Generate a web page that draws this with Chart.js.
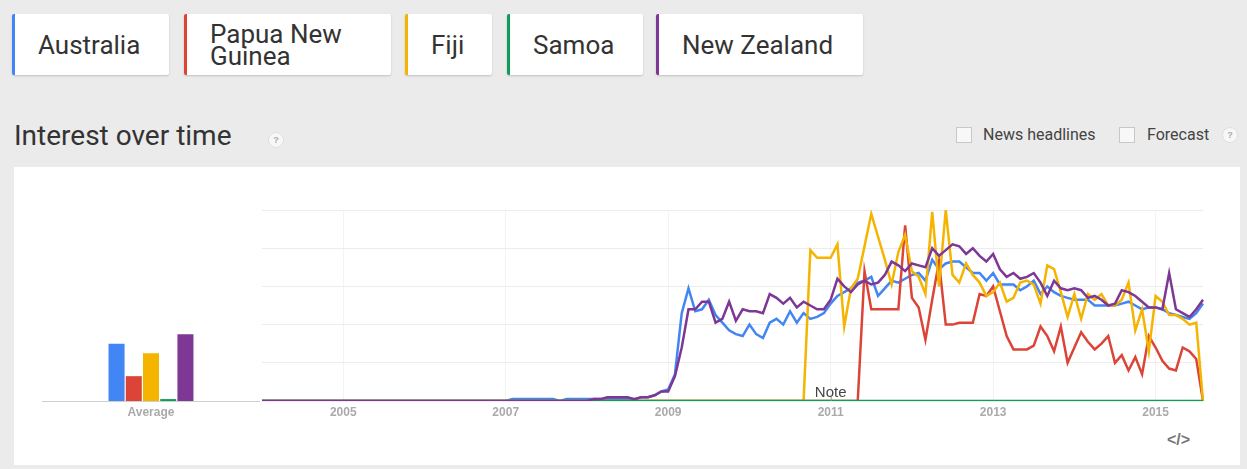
<!DOCTYPE html>
<html>
<head>
<meta charset="utf-8">
<script src="https://cdn.jsdelivr.net/npm/chart.js@4.4.1/dist/chart.umd.min.js"></script>
<style>
  body { margin: 0; width: 1247px; height: 469px; background: #ebebeb; overflow: hidden; position: relative; font-family: Roboto, Arial, sans-serif; }
  .chip { position: absolute; top: 14px; height: 61px; background: #fff; box-shadow: 0 1px 2px rgba(0,0,0,0.18); border-radius: 2px; border-left: 3px solid; box-sizing: border-box; display: flex; align-items: center; padding-left: 23px; font-size: 26px; color: #333; line-height: 22px; }
  .title { position: absolute; left: 14px; top: 119px; font-size: 28px; color: #333; }
  .help { position: absolute; width: 14px; height: 14px; border-radius: 50%; background: #f7f7f7; border: 1px solid #e0e0e0; color: #aaa; font: bold 9px Arial, sans-serif; text-align: center; line-height: 14px; }
  .check { position: absolute; width: 14px; height: 14px; border: 1px solid #c8c8c8; background: #f8f8f8; }
  .opt { position: absolute; font-size: 16px; color: #444; }
  .panel { position: absolute; left: 14px; top: 167px; width: 1226px; height: 298px; background: #fff; }
  canvas { position: absolute; }
  .embed { position: absolute; left: 1167px; top: 431px; font: bold 16px Arial, sans-serif; color: #777; }
</style>
</head>
<body>
<div class="chip" style="left:12px;width:157px;border-color:#4285f4">Australia</div>
<div class="chip" style="left:184px;width:207px;border-color:#db4437">Papua New<br>Guinea</div>
<div class="chip" style="left:405px;width:87px;border-color:#f4b400">Fiji</div>
<div class="chip" style="left:507px;width:136px;border-color:#0f9d58">Samoa</div>
<div class="chip" style="left:656px;width:207px;border-color:#7e3794">New Zealand</div>

<div class="title">Interest over time</div>
<div class="help" style="left:268px;top:132px">?</div>
<div class="check" style="left:956px;top:127px"></div>
<div class="opt" style="left:983px;top:125px">News headlines</div>
<div class="check" style="left:1119px;top:127px"></div>
<div class="opt" style="left:1147px;top:125px">Forecast</div>
<div class="help" style="left:1222px;top:127px">?</div>

<div class="panel"></div>
<canvas id="avg" width="218" height="225" style="left:42px;top:200px"></canvas>
<canvas id="trend" width="965" height="225" style="left:250px;top:200px"></canvas>
<div class="embed">&lt;/&gt;</div>

<script>
const seriesNames = ["Australia", "Papua New Guinea", "Fiji", "Samoa", "New Zealand"];
const seriesColors = ["#4285f4", "#db4437", "#f4b400", "#0f9d58", "#7e3794"];
const averageLabel = ["Average"];
const averages = [30, 13, 25, 1, 35];

// monthly, Jan 2004 .. Aug 2015
const startYear = 2004;
const monthCount = 140;
const noteIndex = 84;

const australia = [
  0,0,0,0,0,0,0,0,0,0,0,0,
  0,0,0,0,0,0,0,0,0,0,0,0,
  0,0,0,0,0,0,0,0,0,0,0,0,
  0,1,1,1,1,1,1,1,0,1,1,1,
  1,1,1,1,1,1,1,1,2,2,3,5,
  6,14,46,59,47,48,53,45,41,37,35,34,
  40,35,33,41,43,40,47,41,46,43,44,46,
  51,55,57,59,62,63,65,55,59,63,62,64,
  66,67,63,74,69,72,73,73,70,67,67,63,
  67,61,61,61,58,60,63,56,60,57,55,54,
  53,53,53,50,50,50,50,51,52,50,48,49,
  49,48,46,45,44,43,46,51
];
const papuaNewGuinea = [
  0,0,0,0,0,0,0,0,0,0,0,0,
  0,0,0,0,0,0,0,0,0,0,0,0,
  0,0,0,0,0,0,0,0,0,0,0,0,
  0,0,0,0,0,0,0,0,0,0,0,0,
  0,0,0,0,0,0,0,0,0,0,0,0,
  0,0,0,0,0,0,0,0,0,0,0,0,
  0,0,0,0,0,0,0,0,0,0,0,0,
  0,0,0,0,0,68,48,48,48,48,48,92,
  54,49,32,53,73,40,40,41,41,41,56,55,
  60,47,34,27,27,27,29,39,34,26,39,20,
  28,36,31,27,30,34,20,24,16,23,14,34,
  28,21,17,16,28,26,22,0
];
const fiji = [
  0,0,0,0,0,0,0,0,0,0,0,0,
  0,0,0,0,0,0,0,0,0,0,0,0,
  0,0,0,0,0,0,0,0,0,0,0,0,
  0,0,0,0,0,0,0,0,0,0,0,0,
  0,0,0,0,0,0,0,0,0,0,0,0,
  0,0,0,0,0,0,0,0,0,0,0,0,
  0,0,0,0,0,0,0,0,0,79,75,75,
  75,82,39,59,64,81,98,86,74,61,78,87,
  68,65,56,99,60,100,66,62,72,66,62,55,
  57,62,52,54,62,63,61,51,71,69,57,44,
  56,43,56,53,56,50,50,53,62,37,48,26,
  55,52,45,45,43,40,41,0
];
const samoa = [
  0,0,0,0,0,0,0,0,0,0,0,0,
  0,0,0,0,0,0,0,0,0,0,0,0,
  0,0,0,0,0,0,0,0,0,0,0,0,
  0,0,0,0,0,0,0,0,0,0,0,0,
  0,0,0,0,0,0,0,0,0,0,0,0,
  0,0,0,0,0,0,0,0,0,0,0,0,
  0,0,0,0,0,0,0,0,0,0,0,0,
  0,0,0,0,0,0,0,0,0,0,0,0,
  0,0,0,0,0,0,0,0,0,0,0,0,
  0,0,0,0,0,0,0,0,0,0,0,0,
  0,0,0,0,0,0,0,0,0,0,0,0,
  0,0,0,0,0,0,0,0
];
const newZealand = [
  0,0,0,0,0,0,0,0,0,0,0,0,
  0,0,0,0,0,0,0,0,0,0,0,0,
  0,0,0,0,0,0,0,0,0,0,0,0,
  0,0,0,0,0,0,0,0,0,0,0,0,
  0,1,1,2,2,2,2,1,2,2,3,5,
  5,13,28,48,48,52,52,41,43,52,42,48,
  47,47,46,56,54,51,54,49,52,50,48,48,
  53,64,60,57,61,63,61,62,66,73,71,68,
  72,71,70,80,76,79,82,81,77,80,76,73,
  77,69,65,67,64,65,67,62,55,63,59,58,
  59,58,54,55,53,50,51,58,57,55,52,49,
  49,48,67,48,46,44,48,53
];
const seriesData = [australia, papuaNewGuinea, fiji, samoa, newZealand];
// lower order is drawn on top: NZ over Samoa over Fiji over PNG over Australia
const drawOrder = [5, 4, 3, 2, 1];

var months = [];
for (var i = 0; i < monthCount; i++) {
  var y = startYear + Math.floor(i / 12);
  var m = (i % 12) + 1;
  months.push(y + "-" + (m < 10 ? "0" + m : m));
}

function isYearTick(label) {
  var parts = label.split("-");
  return parts[1] === "01" && parseInt(parts[0], 10) % 2 === 1;
}

const labelFont = { family: "Liberation Sans, Arial, sans-serif", size: 12, weight: "bold" };

// left panel: average bars
new Chart(document.getElementById("avg").getContext("2d"), {
  type: "bar",
  data: {
    labels: averageLabel,
    datasets: seriesNames.map(function (name, k) {
      return { label: name, data: [averages[k]], backgroundColor: seriesColors[k], borderWidth: 0,
               categoryPercentage: 0.395, barPercentage: 0.93 };
    })
  },
  options: {
    responsive: false,
    animation: false,
    layout: { padding: { top: 10, left: 0, right: 0, bottom: 0 } },
    plugins: { legend: { display: false }, tooltip: { enabled: false } },
    scales: {
      x: {
        grid: { display: false, drawTicks: false },
        border: { display: true, color: "#cfcfcf", width: 1 },
        ticks: { color: "#aaa", font: labelFont, padding: 4 },
        afterFit: function (axis) { axis.height = 24; }
      },
      y: { display: false, min: 0, max: 100 }
    }
  }
});

// note marker on the time chart
const notePlugin = {
  id: "note",
  afterDraw: function (chart) {
    var ctx = chart.ctx;
    var xs = chart.scales.x;
    var ys = chart.scales.y;
    var px = xs.getPixelForValue(noteIndex);
    var base = ys.getPixelForValue(0);
    ctx.save();
    ctx.strokeStyle = "#999";
    ctx.lineWidth = 1;
    ctx.beginPath();
    ctx.moveTo(px + 0.5, base - 4);
    ctx.lineTo(px + 0.5, base);
    ctx.stroke();
    ctx.fillStyle = "#444";
    ctx.font = "15px 'Liberation Sans', Arial, sans-serif";
    ctx.textAlign = "center";
    ctx.textBaseline = "alphabetic";
    ctx.fillText("Note", px, base - 4);
    ctx.restore();
  }
};

new Chart(document.getElementById("trend").getContext("2d"), {
  type: "line",
  data: {
    labels: months,
    datasets: seriesNames.map(function (name, k) {
      return { label: name, data: seriesData[k], borderColor: seriesColors[k], borderWidth: 2.5,
               pointRadius: 0, tension: 0, fill: false, order: drawOrder[k] };
    })
  },
  options: {
    responsive: false,
    animation: false,
    layout: { padding: { top: 10, left: 12, right: 12, bottom: 0 } },
    plugins: { legend: { display: false }, tooltip: { enabled: false } },
    scales: {
      x: {
        offset: false,
        grid: {
          drawTicks: false,
          color: function (c) { return c.tick && isYearTick(months[c.index]) ? "#f3f3f3" : "rgba(0,0,0,0)"; }
        },
        border: { display: false },
        ticks: {
          autoSkip: false, maxRotation: 0, color: "#aaa", font: labelFont, padding: 4,
          callback: function (value, index) { return isYearTick(months[index]) ? months[index].slice(0, 4) : ""; }
        },
        afterFit: function (axis) { axis.height = 24; }
      },
      y: {
        min: 0, max: 100,
        ticks: { display: false, stepSize: 20 },
        grid: { color: "#ececec", drawTicks: false },
        border: { display: false },
        afterFit: function (axis) { axis.width = 0; }
      }
    }
  },
  plugins: [notePlugin]
});
</script>
</body>
</html>
